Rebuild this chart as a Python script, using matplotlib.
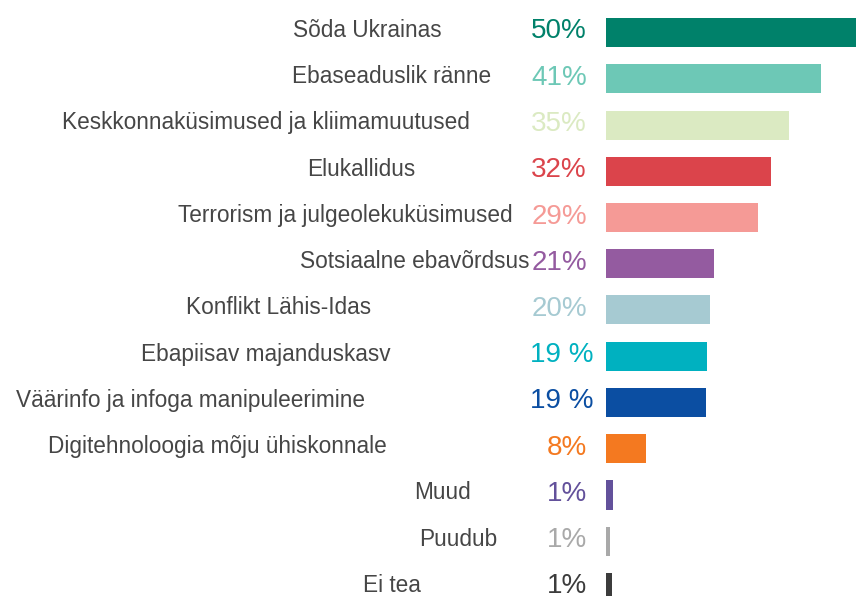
import matplotlib
matplotlib.use("Agg")
import matplotlib.pyplot as plt

categories = [
    "Sõda Ukrainas",
    "Ebaseaduslik ränne",
    "Keskkonnaküsimused ja kliimamuutused",
    "Elukallidus",
    "Terrorism ja julgeolekuküsimused",
    "Sotsiaalne ebavõrdsus",
    "Konflikt Lähis-Idas",
    "Ebapiisav majanduskasv",
    "Väärinfo ja infoga manipuleerimine",
    "Digitehnoloogia mõju ühiskonnale",
    "Muud",
    "Puudub",
    "Ei tea",
]
values = [50, 41.4, 35.2, 31.7, 29.2, 20.8, 20.0, 19.4, 19.2, 7.6, 1.3, 0.8, 1.1]
value_labels = ["50%", "41%", "35%", "32%", "29%", "21%", "20%", "19 %", "19 %",
                "8%", "1%", "1%", "1%"]
colors = ["#00816A", "#6DC8B6", "#DBEAC2", "#DB444B", "#F59A96", "#945BA0",
          "#A6CAD2", "#00B1C0", "#0B4EA2", "#F47920", "#63519B", "#A9A9A9",
          "#3C3C3C"]

# layout (pixel positions in the 856x596 canvas)
W, H = 856, 596
x0_px = 606.0
px_per_unit = 5.2
row0_px = 32.5
row_step = 46.25
label_centers_px = [367.5, 392, 265.5, 361.5, 345, 415, 278.5, 266, 190, 217, 443, 458, 392]
pct_right_px = [587, 587, 587, 587, 587, 587, 587, 594, 594, 587, 587, 587, 587]

def px_to_x(px):
    return (px - x0_px) / px_per_unit

fig = plt.figure(figsize=(W / 100, H / 100), dpi=100)
ax = fig.add_axes([0, 0, 1, 1])
ax.set_xlim(px_to_x(0), px_to_x(W))
ax.set_ylim((H - row0_px) / row_step, -row0_px / row_step)
ax.axis("off")

ys = list(range(len(categories)))
ax.barh(ys, values, height=29 / row_step, color=colors, left=0)

for i, (cat, lab, c) in enumerate(zip(categories, value_labels, colors)):
    ax.text(px_to_x(label_centers_px[i]), i + 4.5 / row_step, cat,
            ha="center", va="baseline", fontsize=16.3,
            family=["Liberation Sans", "DejaVu Sans"], color="#464646")
    ax.text(px_to_x(pct_right_px[i]), i + 6 / row_step, lab,
            ha="right", va="baseline", fontsize=20,
            family=["Liberation Sans", "DejaVu Sans"], color=c)

fig.savefig("out.png", dpi=100)
